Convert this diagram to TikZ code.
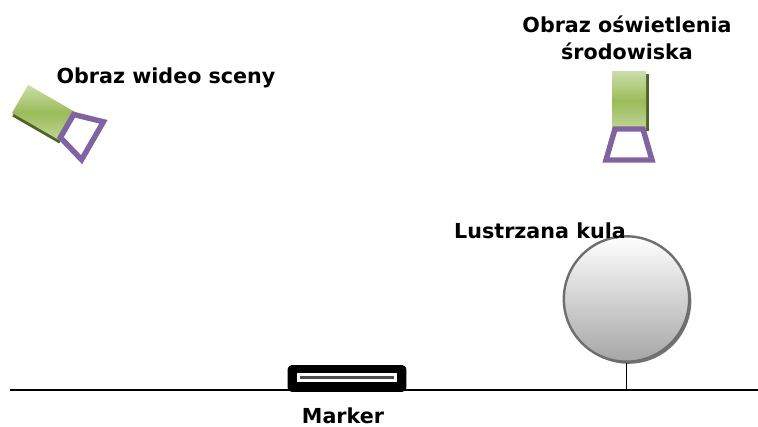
\documentclass[tikz,border=0pt]{standalone}
\usepackage{fontspec}
\setmainfont{DejaVu Sans}
\usetikzlibrary{shadows}

\definecolor{camgreen}{HTML}{9BBB59}
\definecolor{camlight}{HTML}{CBDDA8}
\definecolor{camdark}{HTML}{4F6228}
\definecolor{lenspurple}{HTML}{8064A2}
\definecolor{kularim}{HTML}{6E6E6E}

\tikzset{
  opis/.style={font=\bfseries\fontsize{15.5}{20}\selectfont, align=center, inner sep=0pt},
  pics/camera/.style={code={
    \fill[camdark] (-17+#1,-55) rectangle (17+#1,2);
    \shade[top color=camlight, bottom color=camlight!80!camgreen, middle color=camgreen] (-17,-57) rectangle (17,1);
    \draw[lenspurple, line width=4.1pt, line join=miter] (-14,0) -- (14,0) -- (23,31) -- (-23,31) -- cycle;
  }}
}

\begin{document}
\begin{tikzpicture}[x=0.75pt, y=-0.75pt]
  \useasboundingbox (0,0) rectangle (758,427);

  \coordinate (g0) at (10,390);
  \coordinate (g1) at (758,390);
  \draw [line width=1.4pt] (g0) -- (g1);

  \pic at (629,129) {camera=3};
  \pic [rotate=60, scale=0.95] at (67,126) {camera=-3};

  \node (kula) [circle, minimum size=94pt, inner sep=0pt, draw=kularim, line width=1.8pt,
    top color=white, bottom color=black!35,
    drop shadow={shadow xshift=1.6pt, shadow yshift=-1.6pt, fill=black!55, opacity=1}] at (626.5,299) {};
  \draw [line width=1.4pt] (kula.south) -- (kula.south |- g0);

  \node (marker) [fill=black, rounded corners=3pt, minimum width=89pt, minimum height=20pt] at (347,378.5) {};
  \node (slot) [fill=white, inner sep=0pt, minimum width=75pt, minimum height=6.8pt] at (347,377.5) {};
  \draw [black!70, line width=2.4pt] ([xshift=2.2pt]slot.west) -- ([xshift=-2.2pt]slot.east);

  \node (wideo) [opis] at (166,78) {Obraz wideo sceny};
  \node (oswietlenie) [opis] at (627,38) {Obraz oświetlenia\\środowiska};
  \node (kulaopis) [opis] at (540,231) {Lustrzana kula};
  \node (markeropis) [opis] at (343,416) {Marker};
\end{tikzpicture}
\end{document}
